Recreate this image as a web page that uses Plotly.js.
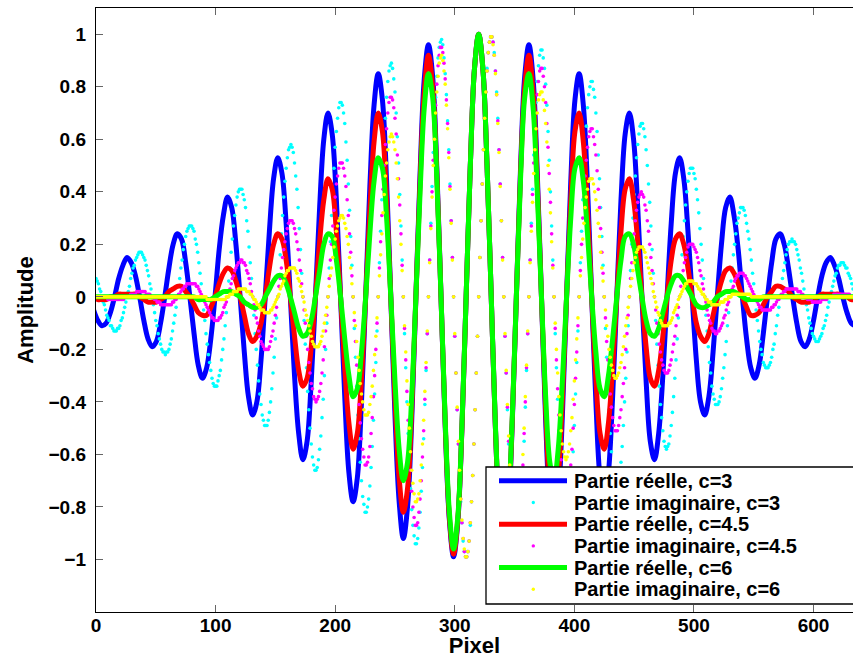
<!DOCTYPE html>
<html><head><meta charset="utf-8">
<script src="https://cdn.plot.ly/plotly-3.0.1.min.js"></script>
<style>html,body{margin:0;padding:0;background:#fff}#chart{width:853px;height:658px}</style>
</head><body><div id="chart"></div>
<script>
// Pixel axis sampling: imaginary parts at every pixel from 0, real parts every 3.5 px from -2
const imagStart = 0, imagStep = 1;
const realStart = -2, realStep = 3.5;

const realC3 = [
-.05,-.09,-.11,-.10,-.06,0,.07,.12,.15,.13,.08,0,-.09,-.16,-.19,-.17,-.10,0,.11,.20,.24,.22,.13,0,
-.14,-.26,-.31,-.27,-.16,0,.18,.31,.38,.34,.20,0,-.21,-.38,-.45,-.40,-.24,0,.25,.45,.53,.47,.28,0,
-.30,-.52,-.62,-.55,-.32,0,.34,.60,.70,.62,.37,0,-.38,-.67,-.78,-.69,-.40,0,.42,.73,.85,.75,.44,0,
-.45,-.78,-.92,-.80,-.47,0,.47,.83,.96,.84,.49,0,-.49,-.85,-.99,-.86,-.50,0,.50,.87,
1,.87,.50,0,-.50,-.86,-.99,-.85,-.49,0,.49,.84,.96,.83,.47,0,-.47,-.80,-.92,-.78,-.45,
0,.44,.75,.85,.73,.42,0,-.40,-.69,-.78,-.67,-.38,0,.37,.62,.70,.60,.34,0,-.32,-.55,-.62,-.52,-.30,
0,.28,.47,.53,.45,.25,0,-.24,-.40,-.45,-.38,-.21,0,.20,.34,.38,.31,.18,0,-.16,-.27,-.31,-.26,-.14,
0,.13,.22,.24,.20,.11,0,-.10,-.17,-.19,-.16,-.09,0,.08,.13,.15,.12,.07,0,-.06,-.10,-.11];

const realC45 = [
0,-.01,-.01,-.01,0,0,.01,.01,.01,.01,.01,0,-.01,-.02,-.02,-.02,-.01,0,.02,.03,.04,.04,.02,0,
-.03,-.06,-.07,-.07,-.04,0,.05,.09,.11,.10,.06,0,-.07,-.14,-.17,-.15,-.10,0,.11,.20,.24,.22,.14,0,
-.15,-.28,-.34,-.31,-.19,0,.21,.37,.45,.41,.25,0,-.27,-.48,-.58,-.52,-.31,0,.33,.59,.70,.63,.37,0,
-.39,-.69,-.82,-.73,-.43,0,.44,.78,.92,.80,.47,0,-.48,-.84,-.98,-.85,-.50,0,.50,.87,
1,.87,.50,0,-.50,-.85,-.98,-.84,-.48,0,.47,.80,.92,.78,.44,0,-.43,-.73,-.82,-.69,-.39,
0,.37,.63,.70,.59,.33,0,-.31,-.52,-.58,-.48,-.27,0,.25,.41,.45,.37,.21,0,-.19,-.31,-.34,-.28,-.15,
0,.14,.22,.24,.20,.11,0,-.10,-.15,-.17,-.14,-.07,0,.06,.10,.11,.09,.05,0,-.04,-.07,-.07,-.06,-.03,
0,.02,.04,.04,.03,.02,0,-.01,-.02,-.02,-.02,-.01,0,.01,.01,.01,.01,.01,0,0,-.01,-.01];

const realC6 = [
0,0,0,0,0,0,0,0,0,0,0,0,0,0,0,0,0,0,0,0,0,0,0,0,
0,-.01,-.01,-.01,-.01,0,.01,.02,.02,.02,.01,0,-.02,-.03,-.04,-.04,-.03,0,.03,.06,.08,.08,.05,0,
-.06,-.12,-.15,-.14,-.09,0,.10,.20,.24,.23,.14,0,-.16,-.30,-.38,-.35,-.21,0,.24,.44,.53,.49,.30,0,
-.32,-.58,-.70,-.63,-.38,0,.40,.72,.85,.76,.45,0,-.47,-.82,-.96,-.84,-.49,0,.50,.87,
1,.87,.50,0,-.49,-.84,-.96,-.82,-.47,0,.45,.76,.85,.72,.40,0,-.38,-.63,-.70,-.58,-.32,
0,.30,.49,.53,.44,.24,0,-.21,-.35,-.38,-.30,-.16,0,.14,.23,.24,.20,.10,0,-.09,-.14,-.15,-.12,-.06,
0,.05,.08,.08,.06,.03,0,-.03,-.04,-.04,-.03,-.02,0,.01,.02,.02,.02,.01,0,-.01,-.01,-.01,-.01,0,
0,0,0,0,0,0,0,0,0,0,0,0,0,0,0,0,0,0,0,0,0,0];

const imagC3 = [
.07,.06,.05,.03,.02,0,
-.02,-.03,-.05,-.07,-.08,-.09,-.11,-.11,-.12,-.13,-.13,-.13,-.12,-.12,-.11,-.09,-.08,-.06,-.04,-.02,0,
.02,.04,.07,.09,.11,.12,.14,.15,.16,.17,.17,.17,.16,.15,.14,.12,.10,.08,.05,.03,0,
-.03,-.06,-.09,-.11,-.14,-.16,-.18,-.20,-.21,-.21,-.22,-.21,-.21,-.20,-.18,-.16,-.13,-.10,-.07,-.04,0,
.04,.07,.11,.14,.18,.20,.23,.25,.26,.27,.27,.27,.26,.25,.22,.20,.17,.13,.09,.05,0,
-.05,-.09,-.14,-.18,-.22,-.25,-.28,-.31,-.33,-.34,-.34,-.34,-.32,-.30,-.28,-.24,-.20,-.16,-.11,-.06,0,
.06,.11,.17,.22,.27,.31,.35,.38,.40,.41,.41,.41,.39,.37,.34,.29,.25,.19,.13,.07,0,
-.07,-.14,-.20,-.26,-.32,-.37,-.41,-.45,-.47,-.49,-.49,-.49,-.47,-.44,-.40,-.35,-.29,-.23,-.16,-.08,0,
.08,.16,.24,.31,.38,.44,.49,.53,.56,.57,.58,.57,.55,.51,.46,.41,.34,.26,.18,.09,0,
-.09,-.18,-.27,-.36,-.43,-.50,-.56,-.61,-.64,-.66,-.66,-.65,-.62,-.58,-.53,-.46,-.39,-.30,-.20,-.10,0,
.11,.21,.31,.40,.49,.57,.63,.68,.72,.74,.74,.73,.70,.66,.59,.52,.43,.33,.23,.12,0,
-.12,-.23,-.34,-.45,-.54,-.63,-.70,-.76,-.79,-.82,-.82,-.80,-.77,-.72,-.65,-.57,-.47,-.37,-.25,-.13,0,
.13,.25,.37,.49,.59,.68,.76,.82,.86,.88,.89,.87,.83,.78,.70,.61,.51,.39,.27,.14,0,
-.14,-.27,-.40,-.52,-.63,-.73,-.81,-.87,-.91,-.94,-.94,-.92,-.88,-.82,-.74,-.65,-.54,-.41,-.28,-.14,0,
.14,.28,.42,.55,.66,.76,.84,.91,.95,.97,.98,.96,.91,.85,.77,.67,.56,.43,.29,.15,0,
-.15,-.29,-.43,-.56,-.68,-.78,-.86,-.93,-.97,-.99,-.99,-.97,-.93,-.87,-.78,-.68,-.56,-.43,-.29,-.15,
0,.15,.29,.43,.56,.68,.78,.87,.93,.97,.99,.99,.97,.93,.86,.78,.68,.56,.43,.29,.15,
0,-.15,-.29,-.43,-.56,-.67,-.77,-.85,-.91,-.96,-.98,-.97,-.95,-.91,-.84,-.76,-.66,-.55,-.42,-.28,-.14,
0,.14,.28,.41,.54,.65,.74,.82,.88,.92,.94,.94,.91,.87,.81,.73,.63,.52,.40,.27,.14,
0,-.14,-.27,-.39,-.51,-.61,-.70,-.78,-.83,-.87,-.89,-.88,-.86,-.82,-.76,-.68,-.59,-.49,-.37,-.25,-.13,
0,.13,.25,.37,.47,.57,.65,.72,.77,.80,.82,.82,.79,.76,.70,.63,.54,.45,.34,.23,.12,
0,-.12,-.23,-.33,-.43,-.52,-.59,-.66,-.70,-.73,-.74,-.74,-.72,-.68,-.63,-.57,-.49,-.40,-.31,-.21,-.11,
0,.10,.20,.30,.39,.46,.53,.58,.62,.65,.66,.66,.64,.61,.56,.50,.43,.36,.27,.18,.09,
0,-.09,-.18,-.26,-.34,-.41,-.46,-.51,-.55,-.57,-.58,-.57,-.56,-.53,-.49,-.44,-.38,-.31,-.24,-.16,-.08,
0,.08,.16,.23,.29,.35,.40,.44,.47,.49,.49,.49,.47,.45,.41,.37,.32,.26,.20,.14,.07,
0,-.07,-.13,-.19,-.25,-.29,-.34,-.37,-.39,-.41,-.41,-.41,-.40,-.38,-.35,-.31,-.27,-.22,-.17,-.11,-.06,
0,.06,.11,.16,.20,.24,.28,.30,.32,.34,.34,.34,.33,.31,.28,.25,.22,.18,.14,.09,.05,
0,-.05,-.09,-.13,-.17,-.20,-.22,-.25,-.26,-.27,-.27,-.27,-.26,-.25,-.23,-.20,-.18,-.14,-.11,-.07,-.04,
0,.04,.07,.10,.13,.16,.18,.20,.21,.21,.22,.21,.21,.20,.18,.16,.14,.11,.09,.06,.03,
0,-.03,-.05,-.08,-.10,-.12,-.14,-.15,-.16,-.17,-.17,-.17,-.16,-.15,-.14,-.12,-.11,-.09,-.07,-.04,-.02,
0,.02,.04,.06,.08,.09,.11,.12,.12,.13,.13,.13,.12,.11,.11,.09,.08,.07,.05,.03];

const imagC45 = [
0,0,0,0,0,0,
0,0,0,0,-.01,-.01,-.01,-.01,-.01,-.01,-.01,-.01,-.01,-.01,-.01,-.01,-.01,-.01,0,0,0,
0,0,.01,.01,.01,.01,.01,.02,.02,.02,.02,.02,.02,.02,.02,.01,.01,.01,.01,0,0,
0,-.01,-.01,-.02,-.02,-.02,-.03,-.03,-.03,-.03,-.03,-.03,-.03,-.03,-.03,-.03,-.02,-.02,-.01,-.01,0,
.01,.01,.02,.03,.03,.04,.04,.05,.05,.05,.05,.05,.05,.05,.05,.04,.04,.03,.02,.01,0,
-.01,-.02,-.03,-.04,-.05,-.06,-.07,-.08,-.08,-.09,-.09,-.09,-.09,-.08,-.08,-.07,-.06,-.04,-.03,-.02,0,
.02,.03,.05,.07,.08,.10,.11,.12,.13,.13,.14,.14,.13,.13,.12,.10,.09,.07,.05,.02,0,
-.03,-.05,-.08,-.10,-.13,-.15,-.17,-.18,-.19,-.20,-.20,-.20,-.20,-.19,-.17,-.15,-.13,-.10,-.07,-.04,0,
.04,.07,.11,.15,.18,.21,.24,.26,.28,.29,.29,.29,.28,.26,.24,.21,.18,.14,.10,.05,0,
-.05,-.10,-.15,-.20,-.25,-.29,-.33,-.35,-.38,-.39,-.40,-.39,-.38,-.36,-.33,-.29,-.24,-.19,-.13,-.07,0,
.07,.14,.20,.27,.33,.38,.43,.46,.49,.51,.51,.51,.49,.46,.42,.37,.31,.24,.17,.08,0,
-.09,-.17,-.26,-.34,-.41,-.48,-.54,-.58,-.61,-.64,-.64,-.63,-.61,-.57,-.52,-.46,-.38,-.30,-.20,-.10,0,
.11,.21,.31,.41,.50,.58,.64,.70,.74,.76,.76,.75,.72,.68,.62,.54,.45,.35,.24,.12,0,
-.12,-.24,-.36,-.47,-.57,-.66,-.74,-.80,-.84,-.87,-.87,-.86,-.82,-.77,-.70,-.61,-.51,-.39,-.27,-.14,0,
.14,.27,.40,.52,.64,.73,.81,.88,.92,.95,.95,.93,.89,.83,.75,.66,.55,.42,.29,.15,0,
-.15,-.29,-.43,-.56,-.67,-.77,-.86,-.92,-.97,-.99,-.99,-.97,-.93,-.86,-.78,-.68,-.56,-.43,-.29,-.15,
0,.15,.29,.43,.56,.68,.78,.86,.93,.97,.99,.99,.97,.92,.86,.77,.67,.56,.43,.29,.15,
0,-.15,-.29,-.42,-.55,-.66,-.75,-.83,-.89,-.93,-.95,-.95,-.92,-.88,-.81,-.73,-.64,-.52,-.40,-.27,-.14,
0,.14,.27,.39,.51,.61,.70,.77,.82,.86,.87,.87,.84,.80,.74,.66,.57,.47,.36,.24,.12,
0,-.12,-.24,-.35,-.45,-.54,-.62,-.68,-.72,-.75,-.76,-.76,-.74,-.70,-.64,-.58,-.50,-.41,-.31,-.21,-.11,
0,.10,.20,.30,.38,.46,.52,.57,.61,.63,.64,.64,.61,.58,.54,.48,.41,.34,.26,.17,.09,
0,-.08,-.17,-.24,-.31,-.37,-.42,-.46,-.49,-.51,-.51,-.51,-.49,-.46,-.43,-.38,-.33,-.27,-.20,-.14,-.07,
0,.07,.13,.19,.24,.29,.33,.36,.38,.39,.40,.39,.38,.35,.33,.29,.25,.20,.15,.10,.05,
0,-.05,-.10,-.14,-.18,-.21,-.24,-.26,-.28,-.29,-.29,-.29,-.28,-.26,-.24,-.21,-.18,-.15,-.11,-.07,-.04,
0,.04,.07,.10,.13,.15,.17,.19,.20,.20,.20,.20,.19,.18,.17,.15,.13,.10,.08,.05,.03,
0,-.02,-.05,-.07,-.09,-.10,-.12,-.13,-.13,-.14,-.14,-.13,-.13,-.12,-.11,-.10,-.08,-.07,-.05,-.03,-.02,
0,.02,.03,.04,.06,.07,.08,.08,.09,.09,.09,.09,.08,.08,.07,.06,.05,.04,.03,.02,.01,
0,-.01,-.02,-.03,-.04,-.04,-.05,-.05,-.05,-.05,-.05,-.05,-.05,-.05,-.04,-.04,-.03,-.03,-.02,-.01,-.01,
0,.01,.01,.02,.02,.03,.03,.03,.03,.03,.03,.03,.03,.03,.03,.02,.02,.02,.01,.01,0,
0,0,-.01,-.01,-.01,-.01,-.02,-.02,-.02,-.02,-.02,-.02,-.02,-.02,-.01,-.01,-.01,-.01,-.01,0,0,
0,0,0,.01,.01,.01,.01,.01,.01,.01,.01,.01,.01,.01,.01,.01,.01,0,0,0];

const imagC6 = [
0,0,0,0,0,0,0,0,0,0, 0,0,0,0,0,0,0,0,0,0, 0,0,0,0,0,0,0,0,0,0,
0,0,0,0,0,0,0,0,0,0, 0,0,0,0,0,0,0,0,0,0, 0,0,0,0,0,0,0,0,0,0,
0,0,0,0,0,0,0,0,0,0, 0,0,0,0,0,0,0,0,0,0, 0,0,0,0,0,0,0,0,0,0,
0,0,0,-.01,-.01,-.01,-.01,-.01,-.01,-.01,-.01,-.01,-.01,-.01,-.01,-.01,-.01,-.01,-.01,0,0,
0,.01,.01,.01,.02,.02,.02,.02,.03,.03,.03,.03,.03,.03,.03,.02,.02,.02,.01,.01,0,
-.01,-.01,-.02,-.03,-.03,-.04,-.05,-.05,-.05,-.06,-.06,-.06,-.06,-.06,-.05,-.05,-.04,-.03,-.02,-.01,0,
.01,.03,.04,.05,.06,.08,.09,.10,.10,.11,.11,.11,.11,.11,.10,.09,.07,.06,.04,.02,0,
-.02,-.05,-.07,-.09,-.11,-.13,-.15,-.17,-.18,-.19,-.19,-.19,-.19,-.18,-.17,-.15,-.13,-.10,-.07,-.04,0,
.04,.08,.11,.15,.19,.22,.25,.27,.29,.30,.31,.31,.30,.28,.26,.23,.20,.15,.11,.05,0,
-.06,-.11,-.17,-.23,-.28,-.33,-.37,-.40,-.43,-.45,-.45,-.45,-.44,-.41,-.38,-.34,-.28,-.22,-.15,-.08,0,
.08,.16,.24,.32,.39,.46,.51,.56,.59,.61,.62,.61,.59,.56,.51,.45,.38,.29,.20,.10,0,
-.11,-.21,-.32,-.41,-.50,-.59,-.66,-.71,-.75,-.78,-.78,-.77,-.75,-.70,-.64,-.56,-.47,-.36,-.25,-.13,0,
.13,.26,.38,.50,.60,.70,.78,.84,.89,.91,.92,.90,.86,.81,.73,.64,.53,.41,.28,.14,0,
-.14,-.29,-.42,-.55,-.66,-.77,-.85,-.92,-.96,-.99,-.99,-.97,-.93,-.86,-.78,-.68,-.56,-.43,-.29,-.15,
0,.15,.29,.43,.56,.68,.78,.86,.93,.97,.99,.99,.96,.92,.85,.77,.66,.55,.42,.29,.14,
0,-.14,-.28,-.41,-.53,-.64,-.73,-.81,-.86,-.90,-.92,-.91,-.89,-.84,-.78,-.70,-.60,-.50,-.38,-.26,-.13,
0,.13,.25,.36,.47,.56,.64,.70,.75,.77,.78,.78,.75,.71,.66,.59,.50,.41,.32,.21,.11,
0,-.10,-.20,-.29,-.38,-.45,-.51,-.56,-.59,-.61,-.62,-.61,-.59,-.56,-.51,-.46,-.39,-.32,-.24,-.16,-.08,
0,.08,.15,.22,.28,.34,.38,.41,.44,.45,.45,.45,.43,.40,.37,.33,.28,.23,.17,.11,.06,
0,-.05,-.11,-.15,-.20,-.23,-.26,-.28,-.30,-.31,-.31,-.30,-.29,-.27,-.25,-.22,-.19,-.15,-.11,-.08,-.04,
0,.04,.07,.10,.13,.15,.17,.18,.19,.19,.19,.19,.18,.17,.15,.13,.11,.09,.07,.05,.02,
0,-.02,-.04,-.06,-.07,-.09,-.10,-.11,-.11,-.11,-.11,-.11,-.10,-.10,-.09,-.08,-.06,-.05,-.04,-.03,-.01,
0,.01,.02,.03,.04,.05,.05,.06,.06,.06,.06,.06,.05,.05,.05,.04,.03,.03,.02,.01,.01,
0,-.01,-.01,-.02,-.02,-.02,-.03,-.03,-.03,-.03,-.03,-.03,-.03,-.02,-.02,-.02,-.02,-.01,-.01,-.01,0,
0,0,.01,.01,.01,.01,.01,.01,.01,.01,.01,.01,.01,.01,.01,.01,.01,.01,0,0,0,
0,0,0,0,0,0,0,0,0,0, 0,0,0,0,0,0,0,0,0,0, 0,0,0,0,0,0,0,0,0,0,
0,0,0,0,0,0,0,0,0,0, 0,0,0,0,0,0,0,0,0,0, 0,0,0,0,0,0,0,0,0,0,
0,0,0,0,0,0,0,0,0,0, 0,0,0,0,0,0,0,0,0,0, 0,0,0];

const seriesNames = [
  'Partie réelle, c=3', 'Partie imaginaire, c=3',
  'Partie réelle, c=4.5', 'Partie imaginaire, c=4.5',
  'Partie réelle, c=6', 'Partie imaginaire, c=6'];
const xTickValues = [0, 100, 200, 300, 400, 500, 600];
const yTickValues = [-1, -0.8, -0.6, -0.4, -0.2, 0, 0.2, 0.4, 0.6, 0.8, 1];
const xRange = [0, 633];
const yRange = [-1.2, 1.1];

const FONT = '"Liberation Sans", Arial, Helvetica, sans-serif';
const colors = ['#0000ff', '#00ffff', '#ff0000', '#ff00ff', '#00ff00', '#ffff00'];
const realSeries = [realC3, realC45, realC6];
const imagSeries = [imagC3, imagC45, imagC6];

const traces = [];
for (let i = 0; i < 3; i++) {
  traces.push({type: 'scatter', mode: 'lines', name: seriesNames[2 * i],
    x0: realStart, dx: realStep, y: realSeries[i],
    line: {color: colors[2 * i], width: 5, shape: 'spline'},
    hoverinfo: 'skip', showlegend: false});
  traces.push({type: 'scatter', mode: 'markers', name: seriesNames[2 * i + 1],
    x0: imagStart, dx: imagStep, y: imagSeries[i],
    marker: {color: colors[2 * i + 1], size: 3.6, line: {width: 0}},
    hoverinfo: 'skip', showlegend: false});
}

// manual MATLAB-style legend (paper coordinates)
const M = {l: 96, r: 0, t: 8, b: 46};
const W = 853 - M.l - M.r, H = 658 - M.t - M.b;
const px = p => (p - M.l) / W;
const py = p => (M.t + H - p) / H;
const shapes = [{type: 'rect', xref: 'paper', yref: 'paper', layer: 'above',
  x0: px(486), x1: px(880), y0: py(604), y1: py(467),
  fillcolor: '#ffffff', line: {color: '#000000', width: 1.3}}];
const annotations = [];
seriesNames.forEach((name, j) => {
  const yc = 480.8 + 21.7 * j;
  if (j % 2 === 0) {
    shapes.push({type: 'line', xref: 'paper', yref: 'paper', layer: 'above',
      x0: px(499), x1: px(567), y0: py(yc), y1: py(yc),
      line: {color: colors[j], width: 5}});
  } else {
    shapes.push({type: 'circle', xref: 'paper', yref: 'paper', layer: 'above',
      x0: px(531.6), x1: px(535), y0: py(yc + 1.7), y1: py(yc - 1.7),
      fillcolor: colors[j], line: {width: 0}});
  }
  annotations.push({xref: 'paper', yref: 'paper', x: px(572), y: py(yc),
    xanchor: 'left', yanchor: 'middle', showarrow: false, text: name,
    font: {family: FONT, size: 20, color: '#000', weight: 'bold'}});
});

const tickFont = {family: FONT, size: 19, color: '#000', weight: 'bold'};
const titleFont = {family: FONT, size: 22, color: '#000', weight: 'bold'};
const layout = {
  width: 853, height: 658, margin: M,
  paper_bgcolor: '#ffffff', plot_bgcolor: '#ffffff', showlegend: false,
  xaxis: {range: xRange, tickmode: 'array', tickvals: xTickValues,
    ticks: 'inside', ticklen: 7, tickwidth: 1, tickcolor: '#666',
    showline: true, linecolor: '#000', linewidth: 1.2, mirror: 'ticks',
    showgrid: false, zeroline: false, tickfont: tickFont, automargin: false,
    ticklabelstandoff: -4,
    title: {text: 'Pixel', font: titleFont, standoff: 9}},
  yaxis: {range: yRange, tickmode: 'array', tickvals: yTickValues,
    ticks: 'inside', ticklen: 7, tickwidth: 1, tickcolor: '#666',
    showline: true, linecolor: '#000', linewidth: 1.2, mirror: false,
    showgrid: false, zeroline: false, tickfont: tickFont, automargin: false,
    ticklabelstandoff: 5,
    title: {text: 'Amplitude', font: titleFont, standoff: 8}},
  shapes: shapes, annotations: annotations
};
Plotly.newPlot('chart', traces, layout, {staticPlot: true, displayModeBar: false});
</script></body></html>
